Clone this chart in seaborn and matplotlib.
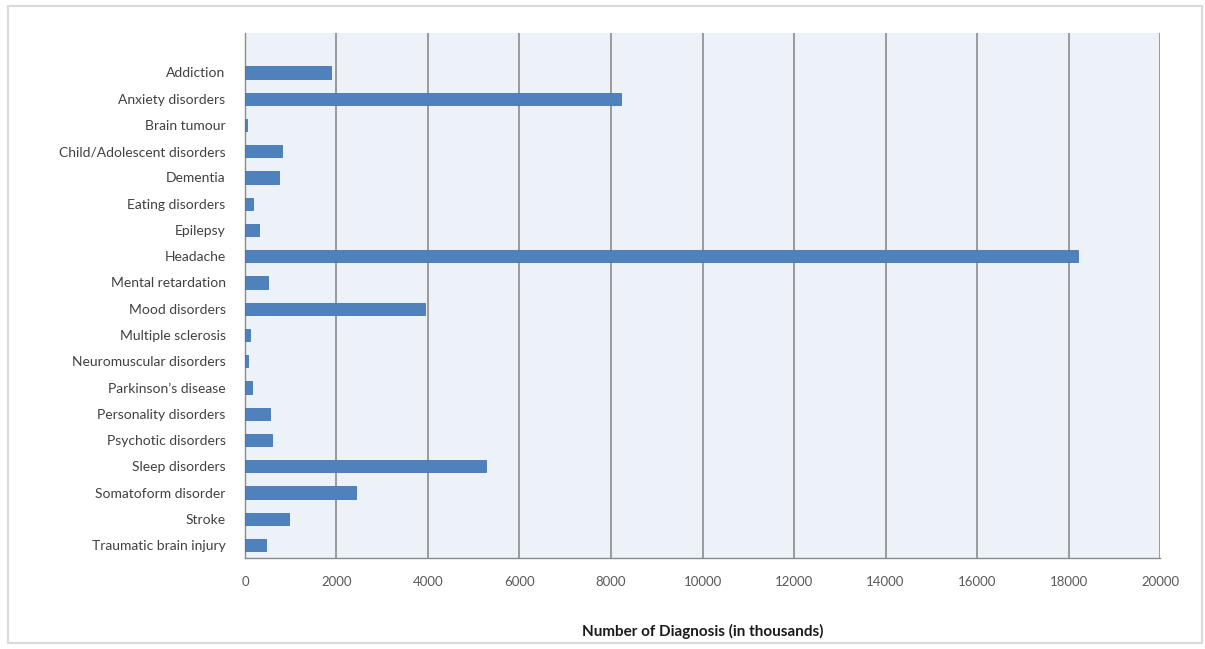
import matplotlib
matplotlib.use("Agg")
import matplotlib.pyplot as plt
import seaborn as sns
import pandas as pd
import numpy as np
from matplotlib.patches import Rectangle

categories = [
    "Addiction", "Anxiety disorders", "Brain tumour", "Child/Adolescent disorders",
    "Dementia", "Eating disorders", "Epilepsy", "Headache", "Mental retardation",
    "Mood disorders", "Multiple sclerosis", "Neuromuscular disorders",
    "Parkinson\u2019s disease", "Personality disorders", "Psychotic disorders",
    "Sleep disorders", "Somatoform disorder", "Stroke", "Traumatic brain injury",
]
diagnoses = [1890, 8210, 40, 800, 750, 180, 300, 18200, 500, 3940,
             110, 60, 150, 550, 600, 5270, 2420, 960, 460]
x_ticks = [0, 2000, 4000, 6000, 8000, 10000, 12000, 14000, 16000, 18000, 20000]

df = pd.DataFrame({"category": categories, "diagnoses": diagnoses})

sns.set_style("white")
plt.rcParams["font.family"] = ["Lato", "DejaVu Sans"]

fig = plt.figure(figsize=(12.05, 6.49), dpi=100)
ax = fig.add_axes([0.2033, 0.140, 0.7594, 0.809])

bar_color = "#4F81BD"
sns.barplot(data=df, y="category", x="diagnoses", orient="h", color=bar_color,
            saturation=1, width=0.47, edgecolor="#4474AE", linewidth=0.6,
            ax=ax, zorder=3)

ax.set_facecolor("#EDF1F8")
ax.set_xlim(0, 20000)
n = len(categories)
ax.set_ylim(n - 0.5, -1.5)

ax.set_xticks(x_ticks)
ax.set_xticklabels([str(v) for v in x_ticks], fontsize=9.5, color="#595959")
ax.xaxis.grid(True, color="#8C8C8C", linewidth=1.2, zorder=1)
ax.yaxis.grid(False)
ax.set_axisbelow(True)

ax.set_yticks(range(n))
ax.set_yticklabels(categories, fontsize=10, color="#404040")
ax.tick_params(axis="y", which="major", length=0, pad=14)
ax.set_yticks(np.arange(-1.5, n, 1.0), minor=True)
ax.tick_params(axis="y", which="minor", length=4, color="#8C8C8C", direction="out")
ax.tick_params(axis="x", which="major", length=5, color="#8C8C8C", direction="out", pad=8)

for side in ["top", "right"]:
    ax.spines[side].set_visible(False)
for side in ["left", "bottom"]:
    ax.spines[side].set_color("#8C8C8C")
    ax.spines[side].set_linewidth(1.0)

ax.set_ylabel("")
ax.set_xlabel("Number of Diagnosis (in thousands)", fontsize=11, fontweight="bold",
              color="#1A1A1A", labelpad=26)

# light outer frame around the chart area
fig.patches.append(Rectangle((8 / 1205, 6 / 649), 1194 / 1205, 637 / 649,
                             transform=fig.transFigure, fill=False,
                             edgecolor="#DADADA", linewidth=1.5))

fig.savefig("out.png", dpi=100, facecolor="white")
